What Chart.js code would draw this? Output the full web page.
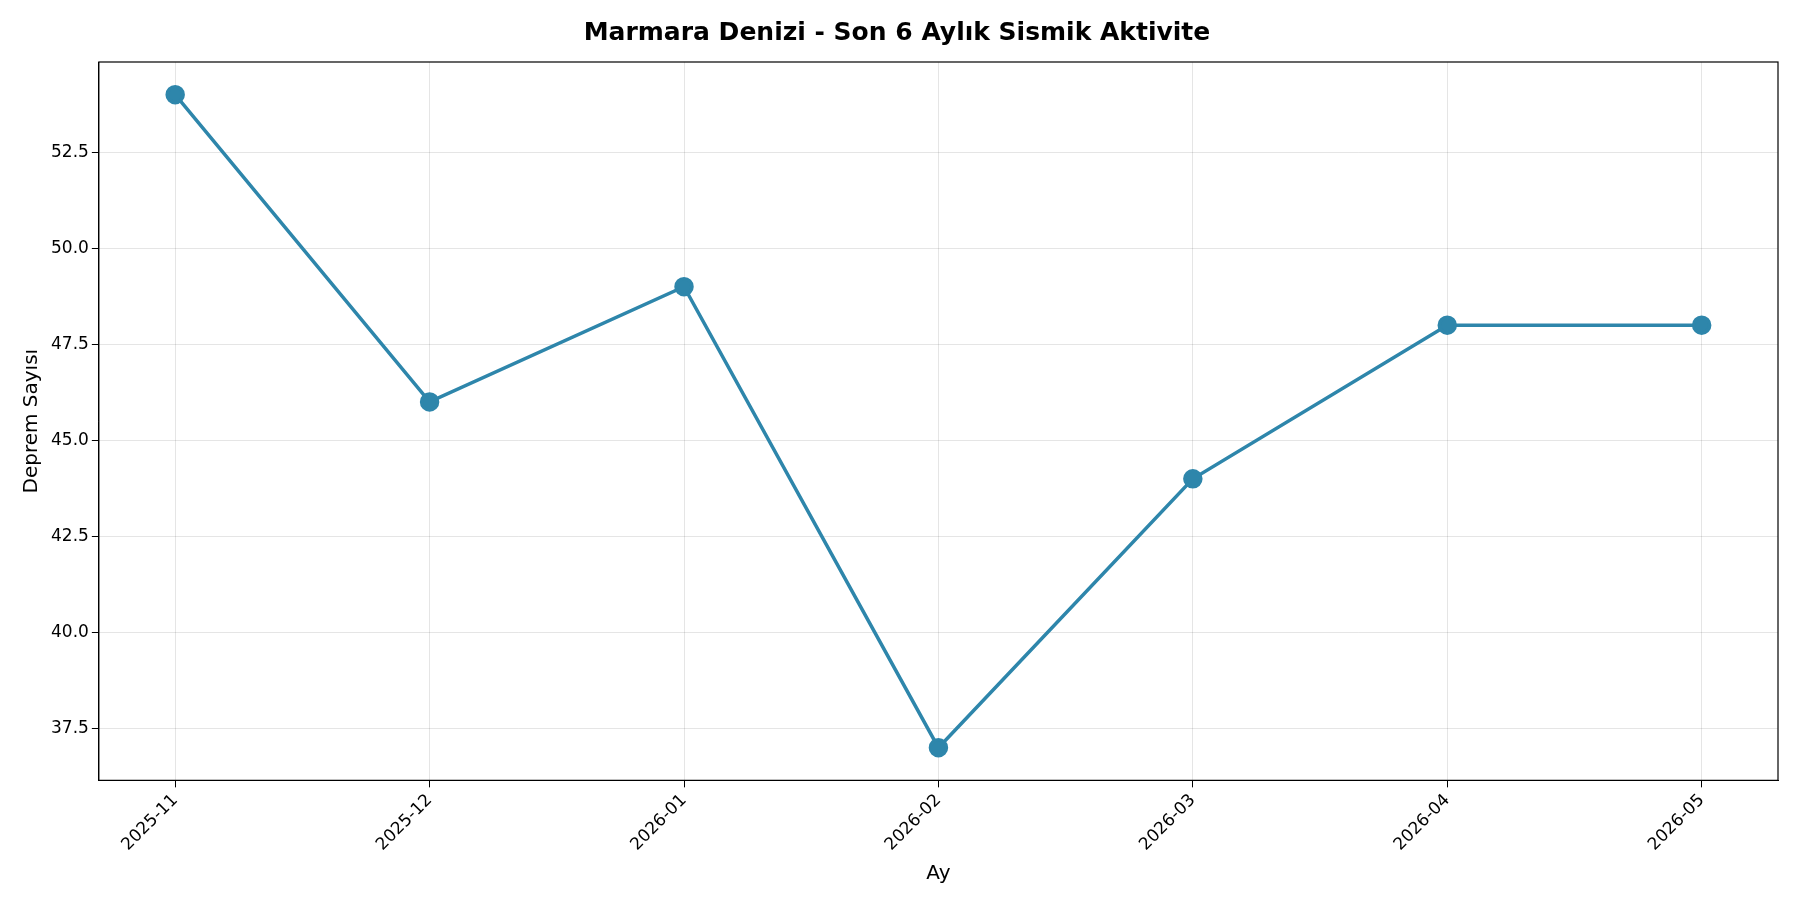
<!DOCTYPE html>
<html>
<head>
<meta charset="utf-8">
<script src="https://cdn.jsdelivr.net/npm/chart.js@4/dist/chart.umd.min.js"></script>
<style>
  body { margin: 0; background: #fff; }
  #wrap { width: 1800px; height: 900px; }
</style>
</head>
<body>
<div id="wrap"><canvas id="c"></canvas></div>
<script>
// Chart data
const months = ["2025-11", "2025-12", "2026-01", "2026-02", "2026-03", "2026-04", "2026-05"];
const quakeCounts = [54, 46, 49, 37, 44, 48, 48];
const yTicks = [37.5, 40.0, 42.5, 45.0, 47.5, 50.0, 52.5];

// Draw a black frame around the plot area
const frame = {
    id: 'frame',
    afterDraw(chart) {
        const a = chart.chartArea, ctx = chart.ctx;
        ctx.save();
        ctx.strokeStyle = '#000';
        ctx.lineWidth = 1.2;
        ctx.strokeRect(a.left, a.top, a.right - a.left, a.bottom - a.top);
        ctx.restore();
    }
};

new Chart(document.getElementById('c'), {
    type: 'line',
    data: {
        datasets: [{
            data: quakeCounts.map((v, i) => ({ x: i, y: v })),
            borderColor: '#2E86AB',
            backgroundColor: '#2E86AB',
            borderWidth: 3.5,
            pointRadius: 8,
            pointHoverRadius: 8,
            fill: false
        }]
    },
    options: {
        responsive: true,
        maintainAspectRatio: false,
        animation: false,
        layout: { padding: { left: 16, right: 22, top: 4, bottom: 10 } },
        plugins: {
            legend: { display: false },
            tooltip: { enabled: false },
            title: {
                display: true,
                text: 'Marmara Denizi - Son 6 Aylık Sismik Aktivite',
                color: '#000',
                font: { size: 25, weight: 'bold', family: 'DejaVu Sans' },
                padding: { top: 14, bottom: 14 }
            }
        },
        scales: {
            x: {
                type: 'linear',
                min: -0.3,
                max: 6.3,
                afterBuildTicks: axis => { axis.ticks = months.map((m, i) => ({ value: i })); },
                ticks: {
                    callback: v => months[v],
                    color: '#000',
                    maxRotation: 45,
                    minRotation: 45,
                    font: { size: 17, family: 'DejaVu Sans' }
                },
                grid: { color: 'rgba(0,0,0,0.1)', tickColor: '#000', tickLength: 7 },
                border: { color: '#000' },
                title: {
                    display: true, text: 'Ay', color: '#000',
                    font: { size: 20, family: 'DejaVu Sans' }
                }
            },
            y: {
                min: 36.15,
                max: 54.85,
                afterBuildTicks: axis => { axis.ticks = yTicks.map(v => ({ value: v })); },
                ticks: {
                    callback: v => v.toFixed(1),
                    color: '#000',
                    font: { size: 17, family: 'DejaVu Sans' }
                },
                grid: { color: 'rgba(0,0,0,0.1)', tickColor: '#000', tickLength: 7 },
                border: { color: '#000' },
                title: {
                    display: true, text: 'Deprem Sayısı', color: '#000',
                    font: { size: 20, family: 'DejaVu Sans' }
                }
            }
        }
    },
    plugins: [frame]
});
</script>
</body>
</html>
